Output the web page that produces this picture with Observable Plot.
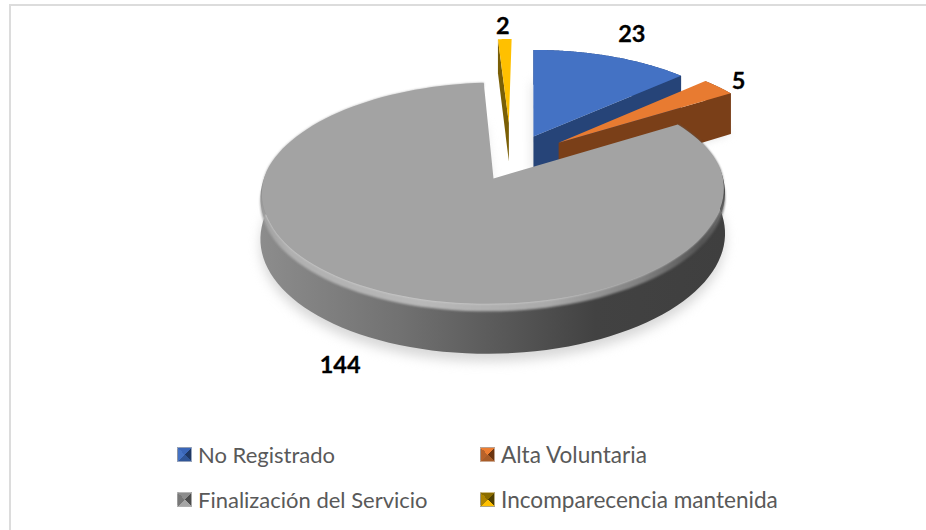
<!DOCTYPE html>
<html lang="es">
<head>
<meta charset="utf-8">
<script src="https://cdn.jsdelivr.net/npm/d3@7"></script>
<script src="https://cdn.jsdelivr.net/npm/@observablehq/plot@0.6"></script>
<style>
  html, body { margin: 0; background: #fff; }
  #page { position: relative; width: 926px; height: 530px; overflow: hidden; font-family: Lato, sans-serif; }
  #frame { position: absolute; left: 9px; top: 4px; right: 0; bottom: 0; border-left: 2px solid #dcdcdc; border-top: 2px solid #dcdcdc; pointer-events: none; }
  #chart svg { display: block; }
  #legend { position: absolute; left: 0; top: 430px; width: 926px; height: 100px; color: #595959; }
  .item { position: absolute; display: flex; align-items: center; height: 28px; white-space: nowrap; }
  .sw { width: 15px; height: 15px; margin-right: 6px; box-sizing: border-box; border: 1px solid rgba(190,190,190,.7); }
</style>
</head>
<body>
<div id="page">
  <div id="chart"></div>
  <div id="legend"></div>
  <div id="frame"></div>
</div>
<script>
const categories = ["No Registrado", "Alta Voluntaria", "Finalización del Servicio", "Incomparecencia mantenida"];
const values = [23, 5, 144, 2];
const topColors = ["#4472c4", "#e87b31", "#a3a3a3", "#ffc000"];
const sideColors = ["#264478", "#7a3f18", "#6e6e6e", "#7a5f06"];
const explode = [0.224, 0.235, 0.224, 0.35];
const nudgeU = [-0.018, 0, 0, -0.03];
const labelOffsets = [[20, -22], [20, -5], [-29, 76], [-2, -13]];
const swatches = [
  ["#3a66b8", "#1f3864", "#2f5597", "#4472c4"],
  ["#ed7d31", "#6b3410", "#a85c28", "#b8622a"],
  ["#8c8c8c", "#4c4c4c", "#a5a5a5", "#777777"],
  ["#8a6c00", "#4f3f00", "#ffc000", "#b08600"]
];

// Perspective view of the pie plane: (u, v) on the disk, z is depth below the top face.
const P = {cx: 493, cy: 178, k: 230, s: 5.5, m: 109.4, p: 0.139, d: 41.5};
const view = d3.geoTransform({
  point(u, v, z = 0) {
    const w = 1 + P.p * v;
    this.stream.point(P.cx + (P.k * u + P.s * v) / w, P.cy + (-P.m * v + P.d * z) / w);
  }
});

const total = d3.sum(values);
const cum = d3.cumsum(values);
const rad = a => a * Math.PI / 180;
const dir = a => [Math.sin(rad(a)), Math.cos(rad(a))];
const slices = values.map((val, i) => {
  const a0 = (i ? cum[i - 1] : 0) / total * 360;
  const a1 = cum[i] / total * 360;
  return {i, a0, a1, mid: (a0 + a1) / 2};
});
const grayMid = dir(slices[2].mid);
const centre = [-grayMid[0] * explode[2], -grayMid[1] * explode[2]];
for (const s of slices) {
  const d = dir(s.mid);
  s.o = [centre[0] + d[0] * explode[s.i] + nudgeU[s.i], centre[1] + d[1] * explode[s.i]];
}
const arcPts = (s, z = 0, r = () => 1) => d3.range(0, 121).map(j => {
  const a = s.a0 + (s.a1 - s.a0) * j / 120;
  const d = dir(a);
  const R = r(a);
  return [s.o[0] + R * d[0], s.o[1] + R * d[1], z];
});
const poly = (ring, fill, opts = {}) => Plot.geo(
  [{type: "Polygon", coordinates: [[...ring, ring[0]]]}],
  {fill, stroke: "none", ...opts}
);
const apex = (s, z = 0) => [s.o[0], s.o[1], z];
const band = (top, bottom) => [...top, ...[...bottom].reverse()];

// Bevel on the front edge of the big slice fades out towards the back.
const rimIn = a => {
  const c = Math.cos(rad(a));
  return 1 - 0.012 * Math.max(0, Math.min(1, (0.1 - c) / 0.5));
};

const defs = () => {
  const svg = d3.create("svg:g");
  const d = svg.append("defs");
  const grad = (id, stops) => {
    const g = d.append("linearGradient").attr("id", id)
      .attr("gradientUnits", "userSpaceOnUse")
      .attr("x1", 262).attr("x2", 724).attr("y1", 0).attr("y2", 0);
    for (const [o, c] of stops) g.append("stop").attr("offset", o).attr("stop-color", c);
  };
  grad("graySide", [[0, "#8c8c8c"], [0.3, "#717171"], [0.55, "#555555"], [0.72, "#424242"], [1, "#3f3f3f"]]);
  grad("grayRim", [[0, "#a0a0a0"], [0.06, "#b0b0b0"], [0.35, "#b8b8b8"], [0.62, "#aaaaaa"], [0.82, "#808080"], [0.95, "#555555"], [1, "#666666"]]);
  return svg.node();
};

const [blue, orange, gray, yellow] = slices;
const sector = s => [apex(s), ...arcPts(s)];
const shadowOf = (s, z) => [apex(s, z), ...arcPts(s, z)];

const marks = [
  defs,
  // soft shadows
  poly(shadowOf(gray, 1.16), "#c9c9c9", {imageFilter: "blur(6px)", fillOpacity: 0.75}),
  poly(shadowOf(orange, 1.08), "#d4d4d4", {imageFilter: "blur(4px)", fillOpacity: 0.8}),
  poly(shadowOf(blue, 0.95), "#cfcfcf", {imageFilter: "blur(6px)", fillOpacity: 0.8}),
  // No Registrado
  poly(band(arcPts(blue), arcPts(blue, 1)), sideColors[0]),
  poly([apex(blue), arcPts(blue).at(-1), arcPts(blue, 1).at(-1), apex(blue, 1)], sideColors[0]),
  poly([apex(blue), arcPts(blue)[0], arcPts(blue, 1)[0], apex(blue, 1)], sideColors[0]),
  poly(sector(blue), topColors[0]),
  // Alta Voluntaria
  poly(band(arcPts(orange), arcPts(orange, 1.1)), sideColors[1]),
  poly([apex(orange), arcPts(orange).at(-1), arcPts(orange, 1.1).at(-1), apex(orange, 1.1)], sideColors[1]),
  poly(sector(orange), topColors[1]),
  // Incomparecencia mantenida
  poly([apex(yellow), arcPts(yellow)[0], arcPts(yellow, 1)[0], apex(yellow, 1)], sideColors[3]),
  poly(sector(yellow), topColors[3]),
  // Finalización del Servicio
  poly(band(arcPts(gray, 0.03), arcPts(gray, 1)), "url(#graySide)"),
  poly(band(arcPts(gray, 0, rimIn), arcPts(gray, 0.12)), "url(#grayRim)", {imageFilter: "blur(1.2px)"}),
  poly([apex(gray), ...arcPts(gray, 0, rimIn)], topColors[2], {imageFilter: "blur(0.4px)"}),
  // value labels
  ...slices.map(s => {
    const d = dir(s.mid);
    return Plot.text([values[s.i]], {
      x: () => s.o[0] + d[0],
      y: () => s.o[1] + d[1],
      text: String,
      dx: labelOffsets[s.i][0],
      dy: labelOffsets[s.i][1],
      fontFamily: "Lato, sans-serif",
      fontWeight: 700,
      fontSize: 23.5,
      fill: "#000",
      stroke: "#000",
      strokeWidth: 0.3
    });
  })
];

const chart = Plot.plot({
  width: 926,
  height: 430,
  margin: 0,
  projection: view,
  marks
});
document.getElementById("chart").append(chart);

const legendPos = [[177, 10, 22], [480, 10, 22.6], [177, 55, 22], [480, 55, 22.6]];
const legend = d3.select("#legend");
categories.forEach((name, i) => {
  const it = legend.append("div").attr("class", "item")
    .style("left", legendPos[i][0] + "px").style("top", legendPos[i][1] + "px")
    .style("font-size", legendPos[i][2] + "px");
  const [t, r, b, l] = swatches[i];
  it.append("span").attr("class", "sw").style("background",
    `conic-gradient(from -45deg, ${t} 0 25%, ${r} 25% 50%, ${b} 50% 75%, ${l} 75% 100%)`);
  it.append("span").text(name);
});
</script>
</body>
</html>
